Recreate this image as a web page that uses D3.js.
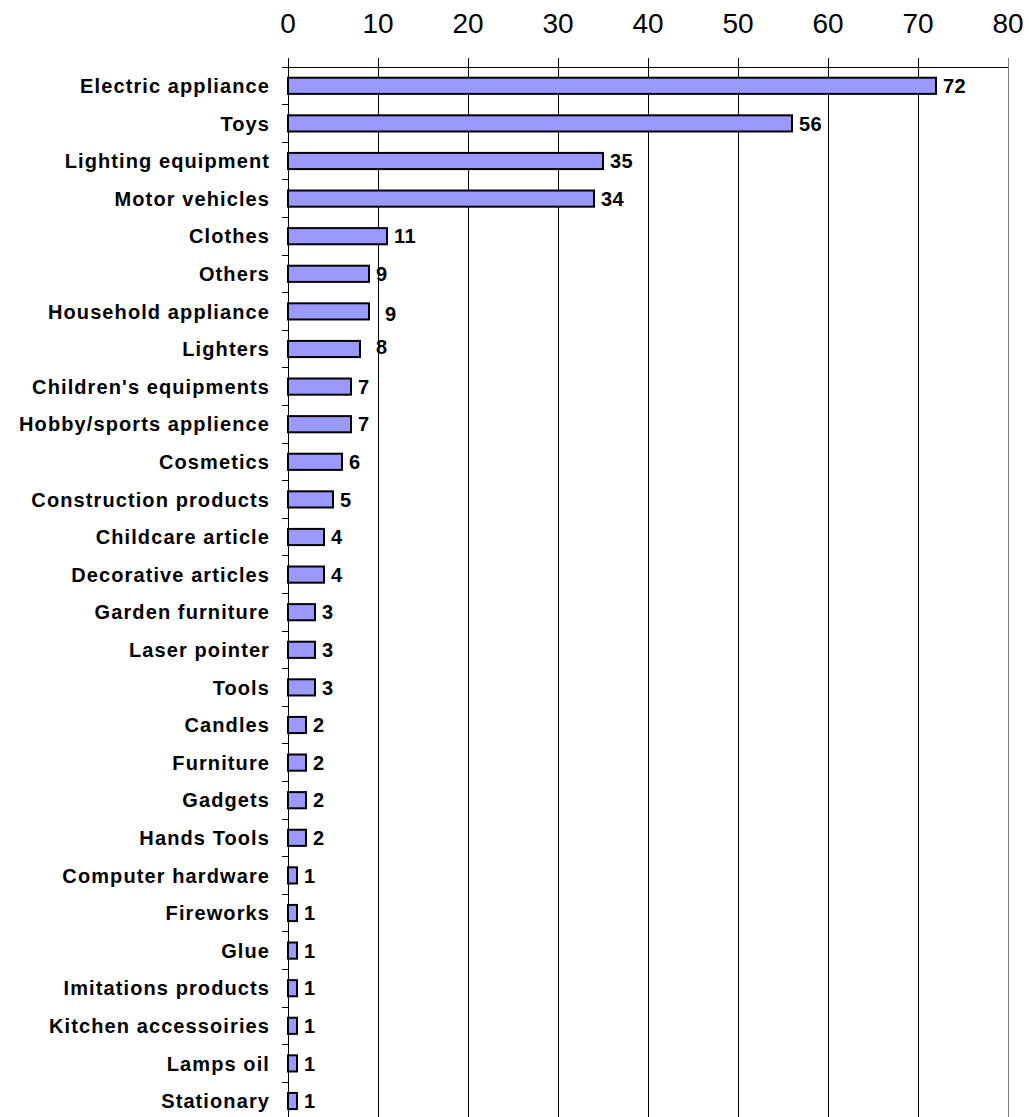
<!DOCTYPE html>
<html>
<head>
<meta charset="utf-8">
<script src="https://cdn.jsdelivr.net/npm/d3@7"></script>
<style>
  html, body { margin: 0; padding: 0; background: #fff; }
  svg { display: block; }
</style>
</head>
<body>
<svg id="chart" width="1029" height="1117"></svg>
<script>
// Product categories and number of notifications per category
const categories = [
  "Electric appliance", "Toys", "Lighting equipment", "Motor vehicles",
  "Clothes", "Others", "Household appliance", "Lighters",
  "Children's equipments", "Hobby/sports applience", "Cosmetics",
  "Construction products", "Childcare article", "Decorative articles",
  "Garden furniture", "Laser pointer", "Tools", "Candles", "Furniture",
  "Gadgets", "Hands Tools", "Computer hardware", "Fireworks", "Glue",
  "Imitations products", "Kitchen accessoiries", "Lamps oil", "Stationary"
];
const values = [72, 56, 35, 34, 11, 9, 9, 8, 7, 7, 6, 5, 4, 4, 3, 3, 3, 2, 2, 2, 2, 1, 1, 1, 1, 1, 1, 1];
const xTicks = [0, 10, 20, 30, 40, 50, 60, 70, 80];

// A couple of value labels sit slightly apart from their bars
const labelNudge = { "Household appliance": [9, 2], "Lighters": [9, -2] };

const svg = d3.select("#chart");
const plotLeft = 288, plotRight = 1008, plotTop = 67, step = 37.6;
const plotBottom = plotTop + step * categories.length;

const x = d3.scaleLinear().domain([0, 80]).range([plotLeft, plotRight]);
const y = d3.scaleBand().domain(categories).range([plotTop, plotBottom])
  .paddingInner(0.57).paddingOuter(0.285);

// Vertical gridlines with ticks poking above the top frame line
svg.append("g").selectAll("line").data(xTicks).join("line")
  .attr("x1", d => x(d)).attr("x2", d => x(d))
  .attr("y1", plotTop - 9).attr("y2", plotBottom)
  .attr("stroke", d => d === 80 ? "#808080" : "#000")
  .attr("stroke-width", 1)
  .attr("shape-rendering", "crispEdges");

// Top frame line
svg.append("line")
  .attr("x1", plotLeft - 6).attr("x2", plotRight).attr("y1", plotTop).attr("y2", plotTop)
  .attr("stroke", "#000").attr("shape-rendering", "crispEdges");

// Top axis labels
svg.append("g").selectAll("text").data(xTicks).join("text")
  .attr("x", d => x(d)).attr("y", 33)
  .attr("text-anchor", "middle")
  .attr("font-family", "Liberation Sans, Arial, sans-serif")
  .attr("font-size", 28)
  .attr("fill", "#000")
  .text(d => d);

// Left category axis with ticks between categories
svg.append("line")
  .attr("x1", plotLeft).attr("x2", plotLeft).attr("y1", plotTop).attr("y2", plotBottom)
  .attr("stroke", "#000").attr("shape-rendering", "crispEdges");
svg.append("g").selectAll("line").data(d3.range(categories.length + 1)).join("line")
  .attr("x1", plotLeft - 6).attr("x2", plotLeft)
  .attr("y1", i => plotTop + i * step).attr("y2", i => plotTop + i * step)
  .attr("stroke", "#000").attr("shape-rendering", "crispEdges");

// Category labels
svg.append("g").selectAll("text").data(categories).join("text")
  .attr("x", 270)
  .attr("y", d => y(d) + y.bandwidth() / 2)
  .attr("dy", "0.36em")
  .attr("text-anchor", "end")
  .attr("font-family", "Liberation Sans, Arial, sans-serif")
  .attr("font-weight", "bold")
  .attr("font-size", 20)
  .attr("letter-spacing", 1.1)
  .attr("fill", "#000")
  .text(d => d);

const rows = categories.map((c, i) => ({ cat: c, val: values[i] }));

// Bars
svg.append("g").selectAll("rect").data(rows).join("rect")
  .attr("x", x(0))
  .attr("y", d => y(d.cat))
  .attr("width", d => x(d.val) - x(0))
  .attr("height", y.bandwidth())
  .attr("fill", "#9999FF")
  .attr("stroke", "#000")
  .attr("stroke-width", 2);

// Value labels
svg.append("g").selectAll("text").data(rows).join("text")
  .attr("x", d => x(d.val) + 7 + (labelNudge[d.cat] ? labelNudge[d.cat][0] : 0))
  .attr("y", d => y(d.cat) + y.bandwidth() / 2 + (labelNudge[d.cat] ? labelNudge[d.cat][1] : 0))
  .attr("dy", "0.36em")
  .attr("font-family", "Liberation Sans, Arial, sans-serif")
  .attr("font-weight", "bold")
  .attr("font-size", 20)
  .attr("letter-spacing", 0.5)
  .attr("fill", "#000")
  .text(d => d.val);
</script>
</body>
</html>
